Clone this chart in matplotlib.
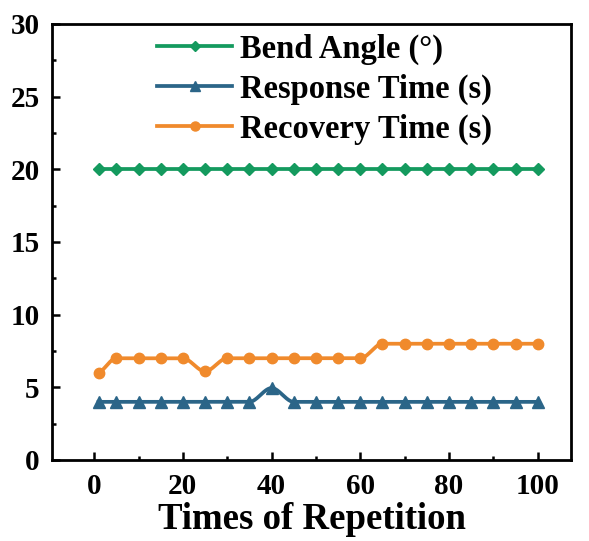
import numpy as np
import matplotlib
matplotlib.use("Agg")
import matplotlib.pyplot as plt

repetitions = [1, 5, 10, 15, 20, 25, 30, 35, 40, 45, 50, 55, 60, 65, 70, 75, 80, 85, 90, 95, 100]
bend_angle = [20] * 21
response_time = [4, 4, 4, 4, 4, 4, 4, 4, 4.95, 4, 4, 4, 4, 4, 4, 4, 4, 4, 4, 4, 4]
recovery_time = [6, 7, 7, 7, 7, 6.1, 7, 7, 7, 7, 7, 7, 7, 8, 8, 8, 8, 8, 8, 8, 8]

GREEN = "#149a5e"
BLUE = "#2b6588"
ORANGE = "#f08a2c"


def smooth_curve(x, y, n=800):
    # monotone cubic (pchip-style) so the curve doesn't overshoot the points
    x = np.asarray(x, float)
    y = np.asarray(y, float)
    h = np.diff(x)
    d = np.diff(y) / h
    m = np.zeros_like(y)
    for k in range(1, len(x) - 1):
        if d[k - 1] * d[k] > 0:
            w1 = 2 * h[k] + h[k - 1]
            w2 = h[k] + 2 * h[k - 1]
            m[k] = (w1 + w2) / (w1 / d[k - 1] + w2 / d[k])
    m[0] = d[0] * 0.5
    m[-1] = d[-1] * 0.5
    xs = np.linspace(x[0], x[-1], n)
    i = np.clip(np.searchsorted(x, xs) - 1, 0, len(x) - 2)
    t = (xs - x[i]) / h[i]
    h00 = 2 * t**3 - 3 * t**2 + 1
    h10 = t**3 - 2 * t**2 + t
    h01 = -2 * t**3 + 3 * t**2
    h11 = t**3 - t**2
    ys = h00 * y[i] + h10 * h[i] * m[i] + h01 * y[i + 1] + h11 * h[i] * m[i + 1]
    return xs, ys


plt.rcParams["font.family"] = ["Liberation Serif", "DejaVu Serif"]
plt.rcParams["font.weight"] = "bold"

fig = plt.figure(figsize=(5.89, 5.41), dpi=100)
ax = fig.add_axes([52 / 589, 81 / 541, 519 / 589, 436 / 541])

series = [
    ("Bend Angle (°)", bend_angle, GREEN, "D", 6),
    ("Response Time (s)", response_time, BLUE, "^", 8),
    ("Recovery Time (s)", recovery_time, ORANGE, "o", 7.5),
]
for label, vals, color, marker, ms in series:
    xs, ys = smooth_curve(repetitions, vals)
    ax.plot(xs, ys, color=color, lw=2.7, zorder=2)
    ax.plot(repetitions, vals, linestyle="none", marker=marker, ms=ms, color=color, zorder=3)
    ax.plot([], [], color=color, lw=2.7, marker=marker, ms=ms - 1, label=label)

ax.set_xlim(-9.5, 107.5)
ax.set_ylim(0, 30)
ax.set_xticks([0, 20, 40, 60, 80, 100])
ax.set_xticks([10, 30, 50, 70, 90], minor=True)
ax.set_yticks([0, 5, 10, 15, 20, 25, 30])
ax.set_yticks([2.5, 7.5, 12.5, 17.5, 22.5, 27.5], minor=True)
ax.tick_params(which="both", direction="in", top=False, right=False, width=1.8, labelsize=21)
ax.tick_params(which="major", length=6, pad=9)
ax.tick_params(which="minor", length=3)
for s in ax.spines.values():
    s.set_linewidth(2)
ax.set_xlabel("Times of Repetition", fontsize=26.5, fontweight="bold", labelpad=2)

ax.legend(loc="upper left", bbox_to_anchor=(0.146, 1.045), frameon=False,
          prop={"size": 23.5, "weight": "bold"}, handlelength=2.3, labelspacing=0.27,
          handletextpad=0.25)

fig.savefig("out.png", dpi=100)
